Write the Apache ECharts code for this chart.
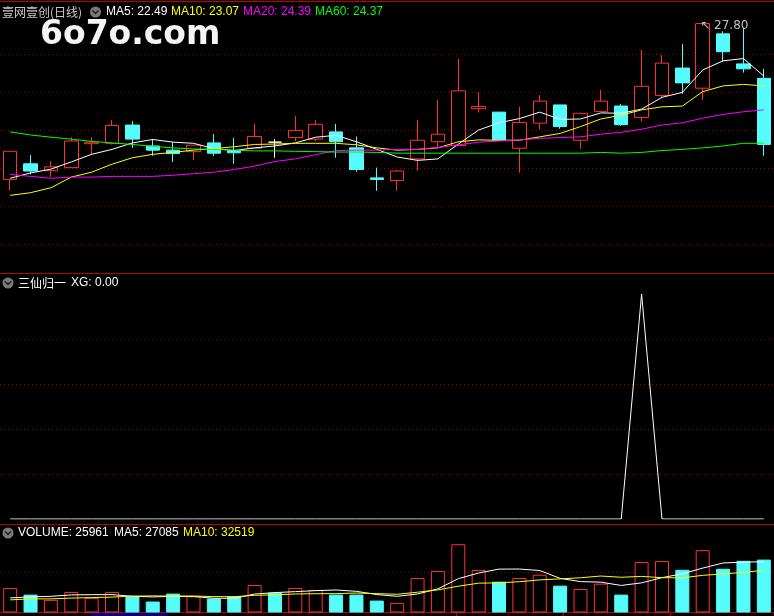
<!DOCTYPE html>
<html>
<head>
<meta charset="utf-8">
<style>
html,body{margin:0;padding:0;background:#000;}
#chart{width:774px;height:616px;}
</style>
<script src="https://cdn.jsdelivr.net/npm/echarts@6/dist/echarts.min.js"></script>
</head>
<body>
<div id="chart"></div>
<script>
const categories = ['1','2','3','4','5','6','7','8','9','10','11','12','13','14','15','16','17','18','19','20',
  '21','22','23','24','25','26','27','28','29','30','31','32','33','34','35','36','37','38'];

const openP  = [23.70,24.11,23.93,24.01,24.64,24.65,25.13,24.58,24.47,24.43,24.66,24.45,24.52,24.68,24.80,24.76,24.95,24.53,23.74,23.67,
  24.24,24.69,24.59,25.56,25.47,24.52,25.18,25.66,24.73,25.49,25.63,25.33,25.91,26.63,26.10,27.53,26.74,26.36];
const closeP = [24.44,23.92,24.03,24.71,24.68,25.12,24.76,24.47,24.38,24.60,24.39,24.40,24.83,24.68,24.99,25.15,24.69,23.96,23.70,23.92,
  24.73,24.89,26.03,25.62,24.74,25.20,25.76,25.09,25.44,25.76,25.14,26.15,26.76,26.24,27.80,27.06,26.61,24.62];
const lowP   = [23.40,23.83,23.77,24.00,24.34,24.62,24.53,24.32,24.16,24.21,24.32,24.11,24.52,24.27,24.71,24.71,24.27,23.90,23.40,23.40,
  23.93,24.54,24.59,25.46,24.74,23.88,25.01,25.03,24.51,25.49,25.11,25.22,25.84,25.95,25.79,26.80,26.51,24.32];
const highP  = [24.44,24.34,24.18,24.81,24.81,25.26,25.24,24.76,24.68,24.60,24.89,24.79,25.16,24.76,25.37,25.26,25.16,24.83,24.01,23.95,
  25.26,25.79,26.87,25.99,25.47,25.61,25.92,25.66,25.44,26.05,25.68,27.11,26.97,27.26,27.80,27.60,27.70,26.61];

const ma5  = [23.73,23.87,23.97,24.16,24.36,24.49,24.66,24.75,24.68,24.65,24.51,24.46,24.53,24.58,24.66,24.81,24.86,24.69,24.49,24.29,
  24.20,24.24,24.63,25.00,25.19,25.30,25.47,25.28,25.29,25.45,25.44,25.55,25.86,25.99,26.58,26.82,26.88,26.42];
const ma10 = [23.28,23.35,23.48,23.76,23.89,24.10,24.27,24.36,24.41,24.47,24.51,24.56,24.62,24.63,24.65,24.65,24.65,24.61,24.53,24.47,
  24.49,24.53,24.69,24.74,24.73,24.73,24.82,24.91,25.09,25.29,25.39,25.53,25.61,25.63,26.01,26.16,26.20,26.16];
const ma20 = [23.83,23.78,23.73,23.76,23.76,23.78,23.78,23.78,23.81,23.85,23.89,23.96,24.05,24.17,24.24,24.35,24.46,24.47,24.47,24.49,
  24.49,24.54,24.61,24.68,24.71,24.74,24.78,24.80,24.82,24.89,24.94,25.02,25.13,25.19,25.31,25.41,25.48,25.53];
const ma60 = [24.95,24.87,24.81,24.76,24.70,24.66,24.62,24.57,24.53,24.50,24.49,24.47,24.45,24.45,24.44,24.43,24.42,24.42,24.41,24.39,
  24.39,24.39,24.39,24.39,24.39,24.39,24.39,24.39,24.39,24.41,24.39,24.41,24.46,24.49,24.53,24.58,24.65,24.65];

const xg = [0,0,0,0,0,0,0,0,0,0,0,0,0,0,0,0,0,0,0,0,0,0,0,0,0,0,0,0,0,0,0,1,0,0,0,0,0,0];

const volume = [12050,8780,6200,10100,7170,10100,7950,5370,9270,7950,6830,7950,13500,9760,12050,11070,8780,8780,5850,4730,
  16900,20340,33500,20830,15120,16930,18540,13170,11560,14150,8780,24730,25220,20980,30590,21460,25370,25961];
const volMa5 = [7170,7660,7950,8630,8750,8780,7950,7660,7950,7850,6980,6980,9050,9760,10240,10730,11050,10390,8800,7950,
  9100,11600,16600,19400,21300,21330,20600,16750,15150,14900,13280,14550,17100,19000,21800,24300,24730,24870];
const volMa10 = [6200,6680,6680,7070,7320,7560,8050,8150,8050,8100,7800,7750,8450,8650,9100,9220,9260,9550,9260,8930,
  9970,11100,12900,14400,14550,15100,16000,16500,17050,17900,17300,17720,17100,17000,18250,18900,19700,20700];

const UP = '#FF3232', DOWN = '#54FCFC', GRIDC = '#A00000', SEP = '#C00000';

const candleData = categories.map((c, i) => [openP[i], closeP[i], lowP[i], highP[i]]);
const volData = volume.map((v, i) => ({
  value: v,
  itemStyle: closeP[i] > openP[i]
    ? { color: '#000000', borderColor: UP, borderWidth: 1 }
    : { color: DOWN, borderColor: DOWN, borderWidth: 1 }
}));

const dotted = { show: true, showMinLine: false, showMaxLine: false,
  lineStyle: { color: GRIDC, width: 1, type: [1, 3] } };

function xAx(gi) {
  return { type: 'category', gridIndex: gi, data: categories, boundaryGap: true,
    axisLine: { show: false }, axisTick: { show: false }, axisLabel: { show: false }, splitLine: { show: false } };
}
function yAx(gi, min, max, interval) {
  return { type: 'value', gridIndex: gi, min: min, max: max, interval: interval, scale: false,
    axisLine: { show: false }, axisTick: { show: false }, axisLabel: { show: false }, splitLine: dotted };
}
function lineS(name, data, color, xi, yi) {
  return { name: name, type: 'line', data: data, xAxisIndex: xi, yAxisIndex: yi, symbol: 'none',
    smooth: false, silent: true, lineStyle: { color: color, width: 1 }, z: 3 };
}
const LF = '12px "Liberation Sans", Arial, sans-serif';
const CF = '12px "Noto Sans CJK SC", sans-serif';
function txt(x, y, s, color, font) {
  return { type: 'text', x: x, y: y, silent: true,
    style: { text: s, fill: color, font: font || LF, align: 'left', verticalAlign: 'middle' } };
}
function icon(cx, cy) {
  return [
    { type: 'circle', shape: { cx: cx, cy: cy, r: 5.5 }, style: { fill: '#7a7a7a' }, silent: true },
    { type: 'polyline', shape: { points: [[cx - 3, cy - 1.5], [cx, cy + 1.5], [cx + 3, cy - 1.5]] },
      style: { stroke: '#1e1e1e', lineWidth: 1.5, fill: null }, silent: true }
  ];
}
function hline(y, color) {
  return { type: 'line', shape: { x1: 0, y1: y, x2: 774, y2: y }, style: { stroke: color, lineWidth: 1 }, silent: true };
}

const chart = echarts.init(document.getElementById('chart'), null, { renderer: 'canvas' });
chart.setOption({
  backgroundColor: '#000000',
  animation: false,
  grid: [
    { left: -2, width: 776, top: 16, height: 266 },
    { left: -2, width: 776, top: 294, height: 225 },
    { left: -2, width: 776, top: 531, height: 81.5 }
  ],
  xAxis: [xAx(0), xAx(1), xAx(2)],
  yAxis: [yAx(0, 21, 28, 1), yAx(1, 0, 1, 0.2), yAx(2, 0, 40000, 20000)],
  series: [
    {
      name: 'K', type: 'candlestick', xAxisIndex: 0, yAxisIndex: 0, data: candleData, barWidth: 14, z: 2,
      itemStyle: { color: '#000000', color0: DOWN, borderColor: UP, borderColor0: DOWN,
        borderColorDoji: '#FFFFFF', borderWidth: 1 },
      markPoint: {
        symbol: 'rect', symbolSize: 1, silent: true,
        itemStyle: { color: 'rgba(0,0,0,0)' },
        data: [{ type: 'max', valueDim: 'highest' }],
        label: { show: true, position: [-2, -3], align: 'left', verticalAlign: 'top',
          color: '#C0C0C0', fontSize: 12, fontFamily: '"DejaVu Sans", sans-serif',
          formatter: function (p) { return '↖ ' + Number(p.value).toFixed(2); } }
      }
    },
    lineS('MA5', ma5, '#FFFFFF', 0, 0),
    lineS('MA10', ma10, '#FFFF00', 0, 0),
    lineS('MA20', ma20, '#FF00FF', 0, 0),
    lineS('MA60', ma60, '#00FF00', 0, 0),
    lineS('XG', xg, '#FFFFFF', 1, 1),
    { name: 'VOLUME', type: 'bar', xAxisIndex: 2, yAxisIndex: 2, data: volData, barWidth: 14, z: 2, silent: true },
    lineS('VMA5', volMa5, '#FFFFFF', 2, 2),
    lineS('VMA10', volMa10, '#FFFF00', 2, 2)
  ],
  graphic: [].concat(
    [hline(1.5, SEP), hline(273.5, SEP), hline(524.5, SEP), hline(612.5, SEP)],
    [
      { type: 'rect', shape: { x: 90, y: 613, width: 78, height: 3 }, style: { fill: '#000080' }, silent: true },
      { type: 'line', shape: { x1: 456.5, y1: 612, x2: 456.5, y2: 616 }, style: { stroke: SEP, lineWidth: 1 }, silent: true },
      { type: 'line', shape: { x1: 563.5, y1: 612, x2: 563.5, y2: 616 }, style: { stroke: SEP, lineWidth: 1 }, silent: true },
      { type: 'line', shape: { x1: 670.5, y1: 612, x2: 670.5, y2: 616 }, style: { stroke: SEP, lineWidth: 1 }, silent: true }
    ],
    [txt(2, 12, '壹网壹创(日线)', '#C8C8C8', CF)],
    icon(95.5, 12),
    [
      txt(106, 12, 'MA5: 22.49', '#FFFFFF'),
      txt(171, 12, 'MA10: 23.07', '#FFFF00'),
      txt(243, 12, 'MA20: 24.39', '#FF00FF'),
      txt(315, 12, 'MA60: 24.37', '#00FF00'),
      { type: 'text', x: 40, y: 35, silent: true,
        style: { text: '6o7o.com', fill: '#F4F4F4', font: 'bold 33px "DejaVu Sans", sans-serif',
          align: 'left', verticalAlign: 'middle' } }
    ],
    icon(8, 283),
    [txt(18, 283, '三仙归一', '#FFFFFF', CF), txt(71, 283, 'XG: 0.00', '#FFFFFF')],
    icon(8, 533),
    [
      txt(18, 533, 'VOLUME: 25961', '#FFFFFF'),
      txt(114, 533, 'MA5: 27085', '#FFFFFF'),
      txt(183, 533, 'MA10: 32519', '#FFFF00')
    ]
  )
});
</script>
</body>
</html>
